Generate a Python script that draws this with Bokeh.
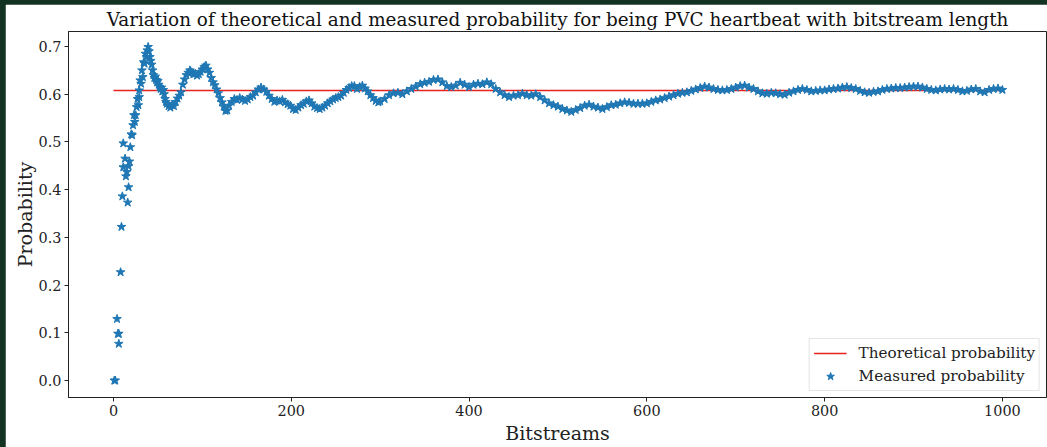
from bokeh.plotting import figure
from bokeh.models import Range1d, Legend, LegendItem, FixedTicker, PrintfTickFormatter
from bokeh.embed import file_html
from bokeh.resources import INLINE

# ---------------- data ----------------
title_text = "Variation of theoretical and measured probability for being PVC heartbeat with bitstream length"
x_label = "Bitstreams"
y_label = "Probability"
x_ticks = [0, 200, 400, 600, 800, 1000]
y_ticks = [0.0, 0.1, 0.2, 0.3, 0.4, 0.5, 0.6, 0.7]

theoretical_x = [0, 1000]
theoretical_prob = 0.608

# early bitstreams (sparse, individually visible stars)
early_x = [1, 2, 4, 5, 6, 6, 8, 9, 10, 11, 11, 13, 14, 15, 16, 17, 17, 18, 19, 20,
           21, 22, 23, 24, 25, 26, 27, 28, 29, 29, 30, 31, 32, 33, 34, 35, 36, 37, 38, 39]
early_p = [0.0, 0.0, 0.129, 0.098, 0.098, 0.077, 0.227, 0.322, 0.386, 0.447, 0.497, 0.465,
           0.428, 0.437, 0.373, 0.405, 0.449, 0.459, 0.489, 0.516, 0.514, 0.535, 0.556, 0.542,
           0.556, 0.573, 0.590, 0.577, 0.608, 0.594, 0.629, 0.622, 0.650, 0.636, 0.667, 0.664,
           0.685, 0.678, 0.692, 0.699]

# bitstreams 40..59
seg_a_x = list(range(40, 60, 1))
seg_a_p = [0.690, 0.678, 0.670, 0.662, 0.650, 0.640, 0.634, 0.637, 0.630, 0.625,
           0.628, 0.620, 0.615, 0.611, 0.614, 0.606, 0.609, 0.600, 0.590, 0.584]

# bitstreams 60..130
seg_b_x = list(range(60, 131, 2))
seg_b_p = [0.580, 0.575, 0.572, 0.577, 0.575, 0.584, 0.591, 0.597, 0.604, 0.620,
           0.631, 0.640, 0.645, 0.650, 0.646, 0.642, 0.643, 0.639, 0.642, 0.647,
           0.652, 0.657, 0.660, 0.652, 0.645, 0.634, 0.625, 0.619, 0.610, 0.602,
           0.592, 0.583, 0.574, 0.565, 0.566, 0.576]

# bitstreams 133..298
seg_c_x = list(range(133, 299, 3))
seg_c_p = [0.584, 0.590, 0.588, 0.592, 0.589, 0.586, 0.589, 0.594, 0.597, 0.604,
           0.610, 0.614, 0.610, 0.605, 0.597, 0.590, 0.584, 0.587, 0.585, 0.588,
           0.583, 0.579, 0.576, 0.569, 0.567, 0.572, 0.577, 0.580, 0.585, 0.587,
           0.581, 0.574, 0.571, 0.569, 0.572, 0.576, 0.581, 0.585, 0.589, 0.592,
           0.594, 0.597, 0.603, 0.609, 0.613, 0.617, 0.617, 0.611, 0.615, 0.618,
           0.612, 0.606, 0.598, 0.592, 0.586, 0.583]

# bitstreams 300..1000
seg_d_x = list(range(300, 1001, 5))
seg_d_p = [0.585, 0.590, 0.598, 0.602, 0.603, 0.600, 0.606, 0.611, 0.616, 0.621,
           0.624, 0.626, 0.630, 0.631, 0.625, 0.617, 0.615, 0.618, 0.624, 0.620,
           0.615, 0.620, 0.622, 0.621, 0.625, 0.621, 0.611, 0.604, 0.598, 0.594,
           0.597, 0.598, 0.601, 0.598, 0.597, 0.600, 0.594, 0.587, 0.581, 0.577,
           0.574, 0.569, 0.566, 0.563, 0.567, 0.571, 0.576, 0.578, 0.574, 0.572,
           0.569, 0.573, 0.577, 0.578, 0.581, 0.583, 0.582, 0.580, 0.580, 0.580,
           0.581, 0.584, 0.587, 0.589, 0.592, 0.595, 0.598, 0.601, 0.603, 0.604,
           0.607, 0.610, 0.613, 0.616, 0.614, 0.611, 0.609, 0.608, 0.609, 0.611,
           0.614, 0.617, 0.618, 0.614, 0.611, 0.606, 0.602, 0.601, 0.603, 0.602,
           0.600, 0.599, 0.603, 0.606, 0.609, 0.611, 0.609, 0.606, 0.607, 0.608,
           0.608, 0.610, 0.611, 0.612, 0.614, 0.615, 0.613, 0.611, 0.607, 0.604,
           0.603, 0.605, 0.606, 0.609, 0.611, 0.612, 0.613, 0.613, 0.614, 0.615,
           0.616, 0.616, 0.614, 0.611, 0.609, 0.608, 0.610, 0.611, 0.610, 0.611,
           0.609, 0.606, 0.607, 0.610, 0.611, 0.606, 0.604, 0.609, 0.611, 0.612,
           0.609]

bitstreams = early_x + seg_a_x + seg_b_x + seg_c_x + seg_d_x
measured = early_p + seg_a_p + seg_b_p + seg_c_p + seg_d_p
n = min(len(bitstreams), len(measured))
bitstreams, measured = bitstreams[:n], measured[:n]

# ---------------- figure ----------------
FONT = "DejaVu Serif"
p = figure(width=1042, height=443, margin=(4, 0, 0, 5),
           output_backend="svg", toolbar_location=None,
           x_range=Range1d(-50.6, 1049.6), y_range=Range1d(-0.0356, 0.7314),
           min_border_left=63, min_border_right=1, min_border_top=27, min_border_bottom=50,
           background_fill_color="white", border_fill_color="white")

p.title.text = title_text
p.title.align = "center"
p.title.text_font = FONT
p.title.text_font_size = "18.4px"
p.title.text_font_style = "normal"
p.title.text_color = "#111111"
p.title.standoff = 3

p.outline_line_color = "#222222"
p.outline_line_width = 1
p.xgrid.grid_line_color = None
p.ygrid.grid_line_color = None

for ax in (p.xaxis[0], p.yaxis[0]):
    ax.axis_line_color = "#222222"
    ax.major_tick_line_color = "#222222"
    ax.major_tick_out = 4
    ax.major_tick_in = 0
    ax.minor_tick_line_color = None
    ax.major_label_text_font = FONT
    ax.major_label_text_font_size = "14.4px"
    ax.major_label_text_color = "#222222"
    ax.axis_label_text_font = FONT
    ax.axis_label_text_font_size = "19px"
    ax.axis_label_text_font_style = "normal"
    ax.axis_label_text_color = "#222222"
    ax.major_label_standoff = 3

p.xaxis.axis_label = x_label
p.yaxis.axis_label = y_label
p.xaxis.axis_label_standoff = 3
p.yaxis.axis_label_standoff = 0
p.xaxis.ticker = FixedTicker(ticks=x_ticks)
p.yaxis.ticker = FixedTicker(ticks=y_ticks)
p.yaxis.formatter = PrintfTickFormatter(format="%.1f")

theo = p.line(theoretical_x, [theoretical_prob] * len(theoretical_x),
              line_color="#e8231f", line_width=1.5)
meas = p.scatter(bitstreams, measured, marker="star", size=9,
                 fill_color="#1f77b4", line_color="#1f77b4")

legend = Legend(items=[LegendItem(label="Theoretical probability", renderers=[theo]),
                       LegendItem(label="Measured probability", renderers=[meas])],
                location="bottom_right", margin=6, padding=4, spacing=3,
                glyph_width=33, glyph_height=20, label_height=20, label_standoff=12,
                label_text_font=FONT, label_text_font_size="15.2px",
                label_text_color="#222222",
                border_line_color="#cccccc", border_line_width=1,
                background_fill_color="white", background_fill_alpha=0.8)
p.add_layout(legend)

html = file_html(p, INLINE)
html = html.replace("<head>", "<head><style>body{background:#123322;}</style>", 1)
open("out.html", "w").write(html)
